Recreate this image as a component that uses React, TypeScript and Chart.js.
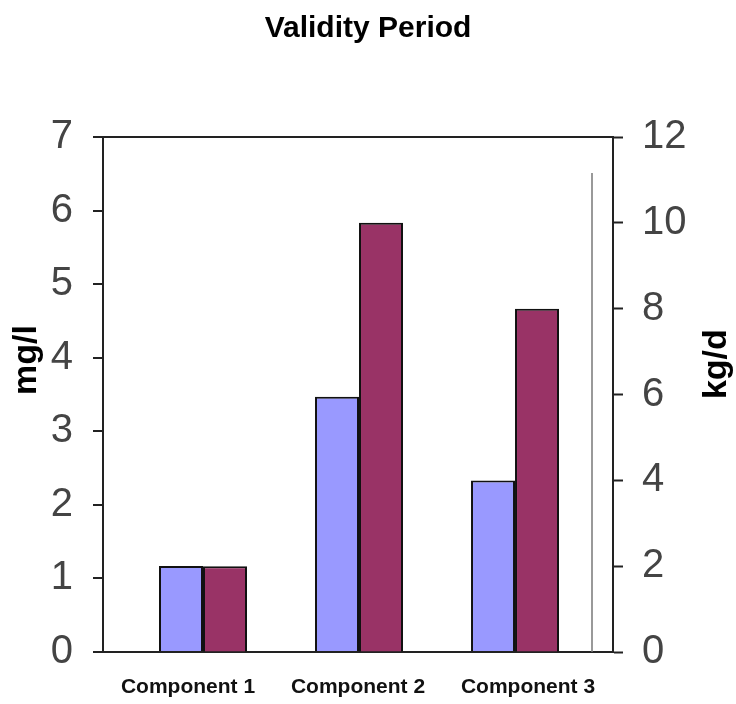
import React, { useEffect, useRef } from "react";
import { Chart, registerables } from "chart.js";

Chart.register(...registerables);

const categories = ["Component 1", "Component 2", "Component 3"];
const barSlots = [0, 1, 2];
const mgPerL = [1.17, 3.47, 2.33];
const kgPerD = [2, 10, 8];
const leftAxisMin = 0;
const leftAxisMax = 7;
const leftStep = 1;
const rightAxisMin = 0;
const rightAxisMax = 12;
const rightStep = 2;
const chartTitle = "Validity Period";
const leftTitle = "mg/l";
const rightTitle = "kg/d";

const TICK_FONT = "'Liberation Sans', Arial, sans-serif";
const BOLD_FONT = "'Liberation Sans', Arial, sans-serif";

const axisTitlesPlugin = {
  id: "axisTitles",
  afterDraw(chart: any) {
    const { ctx, chartArea, width } = chart;
    const h = chartArea.bottom - chartArea.top;
    ctx.save();
    ctx.fillStyle = "#000";
    ctx.font = `bold 34px ${BOLD_FONT}`;
    ctx.textAlign = "center";
    ctx.textBaseline = "middle";
    ctx.save();
    ctx.translate(27, chartArea.top + h * 0.433);
    ctx.rotate(-Math.PI / 2);
    ctx.fillText(leftTitle, 0, 0);
    ctx.restore();
    ctx.save();
    ctx.translate(width - 19, chartArea.top + h * 0.441);
    ctx.rotate(-Math.PI / 2);
    ctx.fillText(rightTitle, 0, 0);
    ctx.restore();
    // faint vertical line inside the plot area
    ctx.strokeStyle = "#777";
    ctx.lineWidth = 1.5;
    ctx.beginPath();
    ctx.moveTo(chartArea.right - 21, chartArea.top + 36);
    ctx.lineTo(chartArea.right - 21, chartArea.bottom);
    ctx.stroke();
    ctx.restore();
  },
};

export default function App() {
  const ref = useRef<HTMLCanvasElement | null>(null);

  useEffect(() => {
    document.body.style.margin = "0";
    const canvas = ref.current;
    if (!canvas) return;
    const chart = new Chart(canvas, {
      type: "bar",
      data: {
        labels: categories,
        datasets: [
          {
            label: leftTitle,
            data: barSlots.map((x, i) => ({ x, y: mgPerL[i] })),
            backgroundColor: "#9999FF",
            borderColor: "#111",
            borderWidth: 2,
            xAxisID: "xb",
            yAxisID: "y",
            categoryPercentage: 0.564,
            barPercentage: 1,
          },
          {
            label: rightTitle,
            data: barSlots.map((x, i) => ({ x, y: kgPerD[i] })),
            backgroundColor: "#993366",
            borderColor: "#111",
            borderWidth: 2,
            xAxisID: "xb",
            yAxisID: "y1",
            categoryPercentage: 0.564,
            barPercentage: 1,
          },
        ],
      },
      options: {
        responsive: false,
        animation: false,
        devicePixelRatio: 1,
        layout: { padding: 0 },
        plugins: {
          legend: { display: false },
          tooltip: { enabled: false },
          title: {
            display: true,
            text: chartTitle,
            color: "#000",
            font: { family: BOLD_FONT, size: 30, weight: "bold" },
            padding: { top: 11, bottom: 90 },
          },
        },
        scales: {
          x: {
            type: "category",
            labels: categories,
            position: "bottom",
            offset: true,
            grid: { display: false, drawTicks: false },
            border: { display: true, color: "#222", width: 2 },
            ticks: {
              color: "#111",
              padding: 23,
              maxRotation: 0,
              font: { family: BOLD_FONT, size: 21, weight: "bold" },
            },
            afterFit(scale: any) {
              scale.height = 52;
            },
          },
          xb: {
            type: "linear",
            display: false,
            offset: false,
            grid: { offset: false },
            min: -0.641,
            max: 2.628,
            afterBuildTicks(scale: any) {
              scale.ticks = barSlots.map((v) => ({ value: v }));
            },
          },
          y: {
            type: "linear",
            position: "left",
            min: leftAxisMin,
            max: leftAxisMax,
            ticks: {
              stepSize: leftStep,
              color: "#444",
              padding: 20,
              font: { family: TICK_FONT, size: 40 },
            },
            grid: {
              drawOnChartArea: true,
              drawTicks: true,
              tickLength: 10,
              tickColor: "#222",
              tickWidth: 2,
              lineWidth: 2,
              color: (c: any) => (c.tick && c.tick.value === leftAxisMax ? "#222" : "rgba(0,0,0,0)"),
            },
            border: { display: true, color: "#222", width: 2 },
            afterFit(scale: any) {
              scale.width = 103;
            },
          },
          y1: {
            type: "linear",
            position: "right",
            min: rightAxisMin,
            max: rightAxisMax,
            ticks: {
              stepSize: rightStep,
              color: "#444",
              padding: 19,
              font: { family: TICK_FONT, size: 40 },
            },
            grid: {
              drawOnChartArea: false,
              drawTicks: true,
              tickLength: 10,
              tickColor: "#222",
              tickWidth: 2,
            },
            border: { display: true, color: "#222", width: 2 },
            afterFit(scale: any) {
              scale.width = 123;
            },
          },
        },
      },
      plugins: [axisTitlesPlugin],
    } as any);
    return () => chart.destroy();
  }, []);

  return (
    <div style={{ width: 736, height: 704, background: "#fff" }}>
      <canvas ref={ref} width={736} height={704} style={{ display: "block" }} />
    </div>
  );
}
